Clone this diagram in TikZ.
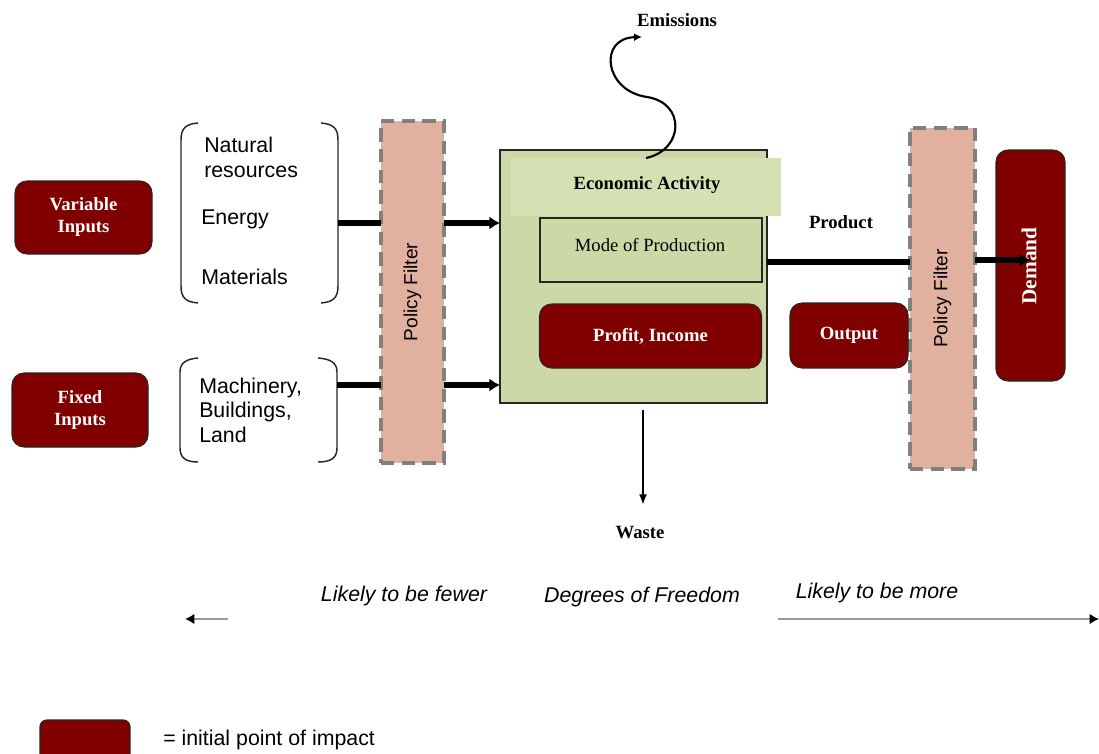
\documentclass[tikz,border=0pt]{standalone}
\usepackage{fontspec}
\setmainfont{Liberation Serif}
\setsansfont{Liberation Sans}
\usetikzlibrary{arrows.meta}
\definecolor{dred}{HTML}{800000}
\definecolor{salmon}{HTML}{E2B09E}
\definecolor{ecogreen}{HTML}{CCD8A5}
\definecolor{bandgreen}{HTML}{D6E1B3}
\definecolor{dashgray}{HTML}{808080}
\definecolor{axisgray}{HTML}{999999}
\begin{document}
\begin{tikzpicture}[x=0.75pt,y=-0.75pt,
  sz/.style 2 args={minimum width=#1*0.75pt, minimum height=#2*0.75pt, inner sep=0pt, outer sep=0pt},
  impact/.style={draw=black!85, line width=0.8pt, fill=dred, rounded corners=9pt, text=white,
    font=\bfseries\fontsize{14}{16.5}\selectfont, align=center},
  filterbox/.style={fill=salmon, draw=dashgray, line width=3.2pt, dash pattern=on 10pt off 5.5pt},
  filtertext/.style={rotate=90, font=\sffamily\fontsize{14.3}{16}\selectfont},
  serifb/.style={font=\bfseries\fontsize{14}{16}\selectfont},
  sanstext/.style={font=\sffamily\fontsize{16}{18.6}\selectfont, align=left, anchor=west, inner sep=0pt},
  italtext/.style={font=\sffamily\itshape\fontsize{16}{18}\selectfont},
  bracket/.style={line width=1.1pt, black!85},
  flow/.style={line width=4.5pt},
  flowarrow/.style={line width=4.5pt, -{Latex[length=8pt,width=10pt]}},
  thinarrow/.style={line width=1.5pt, -{Latex[length=8pt,width=6pt]}},
  axisarrow/.style={line width=1.8pt, draw=axisgray, -{Latex[length=7pt,width=8pt,color=black]}}
]
\useasboundingbox (0,0) rectangle (1099,753);

% left inputs
\node[impact, sz={137}{73}] (vi) at (83.5,217.5) {Variable\\Inputs};
\node[impact, sz={136}{74}] (fi) at (80,410) {Fixed\\Inputs};

% brackets (top)
\draw[bracket] (198,123) .. controls (186,124) and (181,128) .. (181,140) -- (181,286)
  .. controls (181,298) and (186,302) .. (198,303);
\draw[bracket] (321,123) .. controls (333,124) and (338,128) .. (338,140) -- (338,286)
  .. controls (338,298) and (333,302) .. (321,303);
% brackets (bottom)
\draw[bracket] (198,358) .. controls (186,359) and (180,363) .. (180,372) -- (180,448)
  .. controls (180,458) and (186,462) .. (198,462);
\draw[bracket] (318,358) .. controls (331,359) and (337,363) .. (337,372) -- (337,448)
  .. controls (337,458) and (331,462) .. (318,462);

\node[sanstext] (nat) at (204,157) {Natural\\resources};
\node[sanstext] (ene) at (201,219) {Energy};
\node[sanstext] (mat) at (201,277) {Materials};
\node[sanstext, font=\sffamily\fontsize{16}{18.4}\selectfont] (mach) at (199,410) {Machinery,\\Buildings,\\Land};

% policy filters
\node[filterbox, sz={63}{342}] (lf) at (412.5,292) {};
\node[filtertext] (lft) at (lf.center) {Policy Filter};
\node[filterbox, sz={65}{341}] (rf) at (942.5,298.5) {};
\node[filtertext] (rft) at (rf.center) {Policy Filter};

% economic activity
\node[draw=black!85, line width=1pt, fill=ecogreen, sz={267}{253}] (eco) at (633.5,276.5) {};
\node[fill=bandgreen, sz={270}{58}] (band) at (646,187) {};
\node[serifb] (ecot) at (647,185) {Economic Activity};
\node[draw=black!85, line width=0.9pt, fill=ecogreen, sz={222}{64}] (mode) at (651,250) {};
\node[font=\fontsize{14}{16}\selectfont] (modet) at (650,245) {Mode of Production};
\node[impact, sz={222}{64}] (profit) at (650.5,336) {Profit, Income};

% right side
\node[impact, sz={118}{65}] (out) at (849,335.5) {Output};
\node[impact, sz={69}{231}] (demand) at (1030.5,265.5) {};
\node[rotate=90, text=white, font=\bfseries\fontsize{16}{18}\selectfont] (demt) at (1029,266) {Demand};

% connectors on the left
\coordinate (vb) at (338,223);
\coordinate (fb) at (337,385);
\draw[flow] (vb) -- (vb -| lf.west);
\draw[flowarrow] (lf.east |- vb) -- (eco.west |- vb);
\draw[flow] (fb) -- (fb -| lf.west);
\draw[flowarrow] (lf.east |- fb) -- (eco.west |- fb);

% product
\coordinate (pr) at (767,262);
\coordinate (pr2) at (975,260);
\draw[flow] (pr) -- (pr -| rf.west);
\draw[flowarrow] (rf.east |- pr2) -- (demand.center |- pr2);
\node[serifb] (prod) at (841,222) {Product};

% emissions
\coordinate (ems) at (646,158);
\coordinate (emm) at (647,97);
\coordinate (eme) at (642,37);
\draw[line width=1.6pt, -{Latex[length=6pt,width=6pt]}] (ems) .. controls (684,150) and (686,103) .. (emm)
  .. controls (604,91) and (598,38) .. (eme);
\node[serifb] (emt) at (677,20) {Emissions};

% waste
\coordinate (ws) at (643,410);
\coordinate (we) at (643,505);
\draw[thinarrow] (ws) -- (we);
\node[serifb] (wt) at (640,533) {Waste};

% degrees of freedom
\node[italtext] (few) at (404,596) {Likely to be fewer};
\node[italtext] (dof) at (642,597) {Degrees of Freedom};
\node[italtext] (more) at (877,593) {Likely to be more};
\coordinate (la1) at (228,619);
\coordinate (la2) at (185,619);
\coordinate (ra1) at (778,619);
\coordinate (ra2) at (1099,619);
\draw[axisarrow] (la1) -- (la2);
\draw[axisarrow] (ra1) -- (ra2);

% legend
\node[impact, rounded corners=5pt, sz={90}{42}] (leg) at (85,741) {};
\node[sanstext] (legt) at (163,740) {= initial point of impact};
\end{tikzpicture}
\end{document}
